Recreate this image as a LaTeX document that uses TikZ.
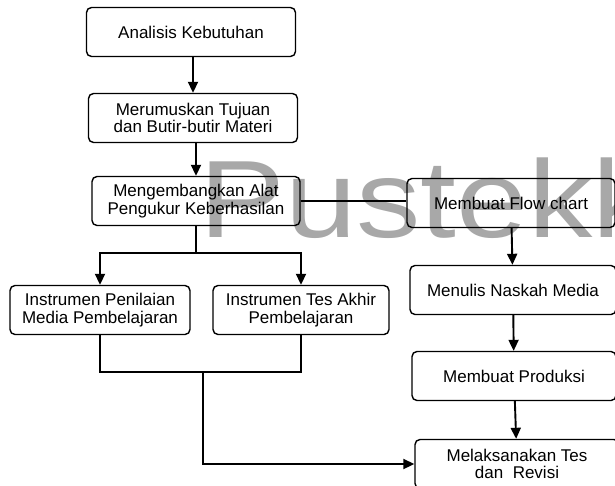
\documentclass[tikz,border=0pt]{standalone}
\usepackage{fontspec}
\setmainfont{Liberation Sans}
\usepackage{tikz}
\usetikzlibrary{arrows.meta}

\tikzset{
  kotak/.style={draw, line width=1.4pt, rounded corners=5pt, align=center,
    minimum height=49pt, inner sep=2pt,
    font=\fontsize{17pt}{17.5pt}\selectfont},
  garis/.style={line width=1.9pt},
}

\begin{document}
\begin{tikzpicture}[line cap=butt,line join=miter,>={Triangle[length=11pt,width=10pt]},x=1pt,y=-1pt]
\useasboundingbox (0,0) rectangle (615,485);
\clip (0,0) rectangle (615,485);

% watermark
\node[anchor=base west, inner sep=0pt, text=black!34] (cap) at (199,237)
  {\scalebox{1.17}[1]{\fontsize{110pt}{110pt}\selectfont Pustekk}};

% kolom kiri
\node[kotak, minimum width=209pt] (analisis) at (191,32) {Analisis Kebutuhan};
\node[kotak, minimum width=209pt] (rumus) at (193,118) {Merumuskan Tujuan\\dan Butir-butir Materi};
\node[kotak, minimum width=208pt] (alat) at (196,201) {Mengembangkan Alat\\Pengukur Keberhasilan};
\node[kotak, minimum width=180pt] (penilaian) at (100,310) {Instrumen Penilaian\\Media Pembelajaran};
\node[kotak, minimum width=176pt] (tesakhir) at (301,310) {Instrumen Tes Akhir\\Pembelajaran};

% kolom kanan
\node[kotak, minimum width=208pt] (flow) at (511,203) {Membuat Flow chart};
\node[kotak, minimum width=206pt] (naskah) at (513,290) {Menulis Naskah Media};
\node[kotak, minimum width=204pt] (produksi) at (514,376) {Membuat Produksi};
\node[kotak, minimum width=204pt] (revisi) at (517,464) {Melaksanakan Tes\\dan\ \ Revisi};

\coordinate (cabang) at (196,253);
\coordinate (gabung) at (203,372);

\draw [garis,->] (analisis.south -| rumus) -- (rumus.north);
\draw [garis,->] (rumus.south -| alat) -- (alat.north);
\draw [garis] (alat.east) -- (alat.east -| flow.west);

\draw [garis] (alat.south) -- (cabang);
\draw [garis,->] (cabang) -| (penilaian.north);
\draw [garis,->] (cabang) -| (tesakhir.north);

\draw [garis] (penilaian.south) |- (gabung) -| (tesakhir.south);
\draw [garis,->] (gabung) |- (revisi.west);

\draw [garis,->] (flow) -- (naskah);
\draw [garis,->] (naskah) -- (produksi);
\draw [garis,->] (produksi) -- (revisi);
\end{tikzpicture}
\end{document}
